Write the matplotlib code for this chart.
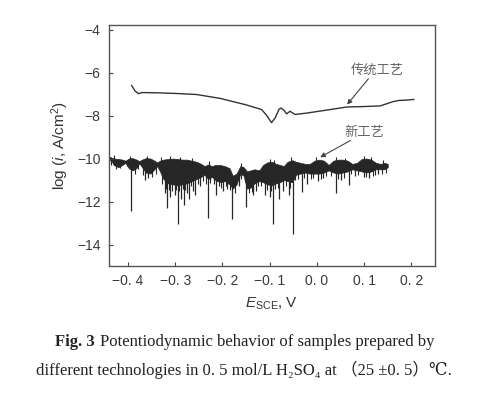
import matplotlib
matplotlib.use("Agg")
import matplotlib.pyplot as plt
import numpy as np

plt.rcParams['font.family'] = ['Liberation Sans', 'DejaVu Sans']
plt.rcParams['mathtext.fontset'] = 'custom'
plt.rcParams['mathtext.rm'] = 'Liberation Sans'
plt.rcParams['mathtext.it'] = 'Liberation Sans:italic'

# ---- traditional process (传统工艺) ----
trad_x = [-0.392, -0.385, -0.378, -0.374, -0.370, -0.340, -0.300, -0.255, -0.205,
          -0.150, -0.117, -0.106, -0.096, -0.088, -0.080, -0.076, -0.070, -0.064,
          -0.057, -0.046, -0.020, 0.028, 0.064, 0.100, 0.134, 0.148, 0.160, 0.172,
          0.190, 0.205]
trad_y = [-6.60, -6.85, -6.98, -6.96, -6.93, -6.94, -6.97, -7.02, -7.20,
          -7.50, -7.72, -8.00, -8.33, -8.10, -7.70, -7.65, -7.75, -7.92,
          -7.80, -7.95, -7.88, -7.72, -7.60, -7.58, -7.55, -7.45, -7.36, -7.30,
          -7.28, -7.25]

# ---- new process (新工艺): noisy band envelope ----
band_x = [-0.440, -0.435, -0.430, -0.420, -0.412, -0.405, -0.398, -0.390, -0.382,
          -0.376, -0.370, -0.362, -0.352, -0.344, -0.338, -0.332, -0.325, -0.315,
          -0.305, -0.295, -0.285, -0.275, -0.265, -0.255, -0.245, -0.238, -0.230,
          -0.222, -0.215, -0.205, -0.195, -0.185, -0.178, -0.170, -0.162, -0.155,
          -0.148, -0.140, -0.132, -0.122, -0.114, -0.105, -0.095, -0.086, -0.078,
          -0.070, -0.062, -0.052, -0.044, -0.035, -0.025, -0.015, -0.005, 0.005,
          0.015, 0.025, 0.035, 0.045, 0.055, 0.065, 0.075, 0.085, 0.095, 0.105,
          0.115, 0.125, 0.135, 0.143, 0.150]
band_top = [-9.92, -9.95, -10.00, -10.02, -10.05, -10.10, -10.00, -9.98, -10.05,
            -10.12, -10.05, -9.98, -10.00, -10.10, -10.18, -10.10, -10.05, -10.02,
            -10.00, -10.02, -10.05, -10.05, -10.10, -10.15, -10.25, -10.35, -10.28,
            -10.35, -10.30, -10.30, -10.35, -10.45, -10.80, -10.70, -10.35, -10.40,
            -10.60, -10.55, -10.50, -10.55, -10.30, -10.18, -10.15, -10.25, -10.30,
            -10.35, -10.15, -10.08, -10.15, -10.20, -10.25, -10.25, -10.10, -10.05,
            -10.10, -10.30, -10.10, -10.05, -10.05, -10.10, -10.25, -10.20, -10.02, -10.00,
            -10.05, -10.20, -10.25, -10.20, -10.25]
band_bot = [-10.05, -10.10, -10.30, -10.40, -10.30, -10.20, -10.45, -10.55, -10.45,
            -10.22, -10.40, -10.65, -10.70, -10.50, -10.35, -10.60, -10.95, -11.15,
            -11.20, -11.25, -11.20, -11.15, -11.05, -10.95, -10.85, -10.75, -10.95,
            -10.85, -11.00, -11.10, -11.05, -11.20, -11.40, -11.20, -10.70, -10.80,
            -11.40, -11.35, -11.15, -11.05, -11.10, -11.20, -11.25, -11.15, -11.10,
            -11.00, -11.05, -11.10, -10.75, -10.70, -10.65, -10.70, -10.70, -10.70,
            -10.65, -10.55, -10.65, -10.70, -10.65, -10.60, -10.50, -10.55, -10.60, -10.65,
            -10.60, -10.50, -10.50, -10.50, -10.40]

# deep downward spikes of the new-process curve
spike_x = [-0.393, -0.317, -0.295, -0.281, -0.231, -0.180, -0.149, -0.092, -0.051,
           -0.364, -0.357, -0.322, -0.310, -0.300, -0.288, -0.275, -0.270, -0.262,
           -0.259, -0.248, -0.214, -0.198, -0.190, -0.165, -0.135, -0.128, -0.110,
           -0.100, -0.080, -0.072, -0.060, -0.032, -0.020, 0.002, 0.012, 0.040,
           0.050, 0.067, 0.081, 0.099, 0.110, 0.130]
spike_y = [-12.45, -12.30, -13.05, -12.15, -12.77, -12.83, -12.25, -13.05, -13.50,
           -11.00, -10.90, -11.60, -11.80, -11.70, -11.90, -11.60, -11.90, -11.50,
           -11.70, -11.30, -11.70, -11.50, -11.40, -11.30, -11.70, -11.50, -11.70,
           -11.80, -11.90, -11.50, -11.70, -11.56, -11.20, -11.06, -10.90, -11.60,
           -11.00, -11.25, -10.80, -10.85, -10.90, -10.70]

# short downward spikes (hairy lower edge of the band)
short_x = [-0.436, -0.426, -0.416, -0.402, -0.386, -0.378, -0.368, -0.348, -0.340,
           -0.328, -0.320, -0.312, -0.306, -0.298, -0.291, -0.284, -0.279, -0.266,
           -0.252, -0.242, -0.234, -0.226, -0.218, -0.208, -0.202, -0.192, -0.183,
           -0.174, -0.160, -0.152, -0.144, -0.138, -0.125, -0.118, -0.106, -0.097,
           -0.088, -0.083, -0.066, -0.056, -0.047, -0.040, -0.028, -0.012, -0.008,
           0.008, 0.020, 0.030, 0.044, 0.058, 0.072, 0.088, 0.104, 0.118, 0.122,
           0.138, 0.146]
short_y = [-10.30, -10.50, -10.45, -10.35, -10.70, -10.50, -10.75, -10.85, -10.70,
           -11.20, -11.40, -11.45, -11.50, -11.45, -11.50, -11.40, -11.45, -11.30,
           -11.20, -11.05, -11.20, -11.15, -11.20, -11.30, -11.35, -11.30, -11.45,
           -11.60, -10.95, -11.10, -11.60, -11.55, -11.30, -11.30, -11.45, -11.50,
           -11.40, -11.35, -11.30, -11.35, -11.00, -10.95, -10.90, -10.95, -10.90,
           -10.95, -10.80, -10.80, -10.95, -10.90, -10.70, -10.75, -10.85, -10.80, -10.75,
           -10.70, -10.65]

# short upward spikes (upper edge of the band)
up_x = [-0.430, -0.395, -0.360, -0.330, -0.310, -0.290, -0.265, -0.228, -0.160,
        -0.100, -0.090, -0.055, -0.002, 0.040, 0.060, 0.100, 0.115, 0.140]
up_y = [-9.85, -9.90, -9.88, -9.95, -9.90, -9.92, -9.98, -10.10, -10.20,
        -10.00, -10.05, -9.92, -9.95, -9.95, -9.98, -9.90, -9.95, -10.05]

xticks = [-0.4, -0.3, -0.2, -0.1, 0.0, 0.1, 0.2]
xticklabels = ['\u22120. 4', '\u22120. 3', '\u22120. 2', '\u22120. 1', '0. 0', '0. 1', '0. 2']
yticks = [-4, -6, -8, -10, -12, -14]
yticklabels = ['\u22124', '\u22126', '\u22128', '\u221210', '\u221212', '\u221214']

fig = plt.figure(figsize=(4.96, 3.99), dpi=100)
ax = fig.add_axes([109/496, 1-266/399, (435-109)/496, (266-25.3)/399])

line_c = '#262626'
ax.plot(trad_x, trad_y, color='#333333', lw=1.0)
ax.fill_between(band_x, band_bot, band_top, color='#262626', lw=0.5, edgecolor=line_c)
mid = (np.array(band_top) + np.array(band_bot)) / 2
ax.vlines(spike_x, spike_y, np.interp(spike_x, band_x, mid), color=line_c, lw=0.9)
ax.vlines(short_x, short_y, np.interp(short_x, band_x, mid), color=line_c, lw=0.8)
ax.vlines(up_x, np.interp(up_x, band_x, mid), up_y, color=line_c, lw=0.8)

ax.set_xlim(-0.44, 0.25)
ax.set_ylim(-15, -3.8)
ax.set_xticks(xticks)
ax.set_xticklabels(xticklabels)
ax.set_yticks(yticks)
ax.set_yticklabels(yticklabels)
ax.tick_params(direction='in', length=3, width=0.8, colors='#444444', labelsize=10,
               labelcolor='#3a3a3a', pad=6)
for s in ax.spines.values():
    s.set_color('#555555')
    s.set_linewidth(1.0)

ax.set_xlabel(r'$\mathit{E}_{\mathrm{SCE}}$, V', fontsize=11, color='#333333', labelpad=5)
ax.set_ylabel(r'log ($\mathit{i}$, A/cm$^2$)', fontsize=11, color='#333333', labelpad=4)

cjk = ['Noto Sans CJK SC', 'DejaVu Sans']
ax.text(0.128, -5.87, '传统工艺', family=cjk, fontsize=9.5, color='#666666',
        ha='center', va='center')
ax.annotate('', xy=(0.064, -7.49), xytext=(0.109, -6.29),
            arrowprops=dict(arrowstyle='-|>', color='#444444', lw=0.8,
                            mutation_scale=7, shrinkA=0, shrinkB=0))
ax.text(0.100, -8.78, '新工艺', family=cjk, fontsize=9.5, color='#666666',
        ha='center', va='center')
ax.annotate('', xy=(0.007, -9.94), xytext=(0.071, -9.16),
            arrowprops=dict(arrowstyle='-|>', color='#444444', lw=0.8,
                            mutation_scale=7, shrinkA=0, shrinkB=0))

serif = ['Liberation Serif', 'DejaVu Serif', 'Noto Sans CJK SC']
fig.text(55/496, 1-342/399, 'Fig. 3', family=serif, fontsize=12, fontweight='bold',
         color='#222222', ha='left', va='center')
fig.text(100/496, 1-342/399, 'Potentiodynamic behavior of samples prepared by',
         family=serif, fontsize=12, color='#222222', ha='left', va='center')
fig.text(36/496, 1-370/399,
         'different technologies in 0. 5 mol/L H\u2082SO\u2084 at \uff0825 \u00b10. 5\uff09\u2103.',
         family=serif, fontsize=12, color='#222222', ha='left', va='center')

fig.savefig('out.png', dpi=100)
